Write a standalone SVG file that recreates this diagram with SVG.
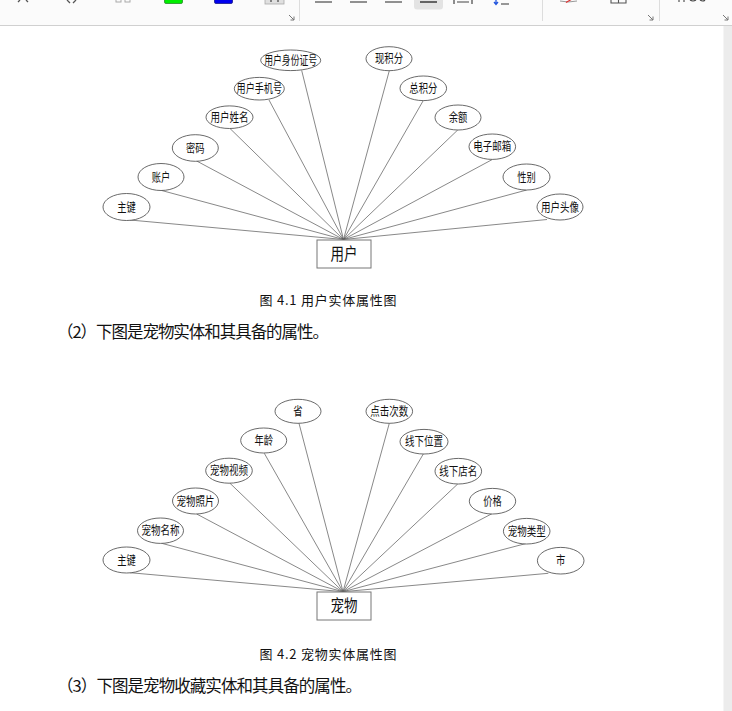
<svg xmlns="http://www.w3.org/2000/svg" width="732" height="711" viewBox="0 0 732 711">
<style>
.ell{fill:#fff;stroke:#444;stroke-width:0.8}
.ent{fill:#fff;stroke:#777;stroke-width:1}
.lbl{font-family:"Noto Sans CJK SC","Liberation Sans",sans-serif;font-size:12.5px;fill:#111;text-anchor:middle}
.etxt{font-family:"Noto Sans CJK SC","Liberation Sans",sans-serif;font-size:17px;fill:#111;text-anchor:middle}
.conn line{stroke:#555;stroke-width:0.7}
.cap{font-family:"Noto Sans CJK SC","Liberation Mono",sans-serif;font-size:13px;fill:#111}
.body{font-family:"Noto Sans CJK SC","Liberation Sans",sans-serif;font-size:16.5px;fill:#111}
.tb{stroke:#555;stroke-width:1.3;fill:none}
.corner{stroke:#777;stroke-width:1;fill:none}
</style>
<rect x="0" y="0" width="732" height="711" fill="#fff"/>
<!-- toolbar -->
<g id="toolbar">
<rect x="0" y="0" width="732" height="25" fill="#fbfbfb"/>
<line x1="0" y1="25.5" x2="732" y2="25.5" stroke="#d0d0d0" stroke-width="1.2"/>
<path class="tb" d="M18 2 L20 0 M28 2 L26 0"/>
<path class="tb" d="M67 0 L70 3 M76 0 L73 3"/>
<rect x="116" y="-2" width="5" height="4" fill="none" stroke="#aaa" stroke-width="1"/>
<rect x="125" y="-2" width="5" height="4" fill="none" stroke="#aaa" stroke-width="1"/>
<rect x="164.5" y="-3" width="18" height="6.5" rx="1.5" fill="#00ee00" stroke="#2a8a2a" stroke-width="0.8"/>
<rect x="214.5" y="-3" width="18" height="6.5" rx="1.5" fill="#0000ee" stroke="#1a1a8a" stroke-width="0.8"/>
<rect x="265" y="-3" width="19" height="7" fill="#e0e0e0" stroke="#aaa" stroke-width="0.8"/>
<path d="M271 0 L271 2 M278 0 L278 2" stroke="#444" stroke-width="1.2"/>
<path class="corner" d="M289 15 L294 20 M294 16.5 L294 20 L290.5 20"/>
<line x1="299.5" y1="0" x2="299.5" y2="21" stroke="#ddd" stroke-width="1"/>
<line x1="315" y1="2" x2="332" y2="2" stroke="#555" stroke-width="1.3"/>
<line x1="350" y1="2" x2="367" y2="2" stroke="#555" stroke-width="1.3"/>
<line x1="385" y1="2" x2="402" y2="2" stroke="#555" stroke-width="1.3"/>
<rect x="414" y="-4" width="29" height="13.5" rx="3" fill="#e3e3e3"/>
<line x1="420" y1="2" x2="437" y2="2" stroke="#444" stroke-width="1.6"/>
<path d="M454 0 L454 4 M472 0 L472 4 M457 2 L469 2" stroke="#444" stroke-width="1.2" fill="none"/>
<path d="M496 0 L496 4 M494 2 L496 4.5 L498 2" stroke="#2255dd" stroke-width="1.3" fill="none"/>
<line x1="501" y1="4" x2="509" y2="4" stroke="#555" stroke-width="1.2"/>
<line x1="542.5" y1="0" x2="542.5" y2="21" stroke="#ddd" stroke-width="1"/>
<path d="M560 1 Q568 3 577 1" stroke="#999" stroke-width="1" fill="none"/>
<line x1="566" y1="2.5" x2="572" y2="-1" stroke="#e03030" stroke-width="1.2"/>
<path d="M611 0 L611 3 L626 3 L626 0 M618.5 0 L618.5 3" stroke="#555" stroke-width="1.1" fill="none"/>
<path class="corner" d="M648 15 L653 20 M653 16.5 L653 20 L649.5 20"/>
<line x1="659.5" y1="0" x2="659.5" y2="21" stroke="#ddd" stroke-width="1"/>
<path d="M679 0 L679 2 M684 0 L684 2 M690 0 Q693 2 696 0 M700 0 Q703 2 705 0" stroke="#444" stroke-width="1.1" fill="none"/>
<path class="corner" d="M723 15 L728 20 M728 16.5 L728 20 L724.5 20"/>
</g>
<rect x="723.5" y="26" width="8.5" height="685" fill="#ececec"/>

<!-- diagram 1 connectors -->
<g id="connectors-1" class="conn">
<line x1="130" y1="220" x2="343.5" y2="239.5"/>
<line x1="161.7" y1="190.5" x2="343.5" y2="239.5"/>
<line x1="196.7" y1="161" x2="343.5" y2="239.5"/>
<line x1="230" y1="128.5" x2="343.5" y2="239.5"/>
<line x1="269" y1="100" x2="343.5" y2="239.5"/>
<line x1="301.7" y1="70.5" x2="343.5" y2="239.5"/>
<line x1="389.3" y1="70.7" x2="343.5" y2="239.5"/>
<line x1="423.3" y1="100.5" x2="343.5" y2="239.5"/>
<line x1="457.7" y1="130" x2="343.5" y2="239.5"/>
<line x1="492.3" y1="159.5" x2="343.5" y2="239.5"/>
<line x1="526.7" y1="190" x2="343.5" y2="239.5"/>
<line x1="547" y1="219.5" x2="343.5" y2="239.5"/>
</g>
<g id="user"><rect class="ent" x="317" y="240" width="54" height="28"/><text class="etxt" x="344" y="260" textLength="27" lengthAdjust="spacingAndGlyphs">用户</text></g>
<g id="u-key"><ellipse class="ell" cx="126.5" cy="207" rx="23.5" ry="13.5"/><text class="lbl" x="126.5" y="211.5" textLength="18.5" lengthAdjust="spacingAndGlyphs">主键</text></g>
<g id="u-account"><ellipse class="ell" cx="161" cy="177" rx="23" ry="13.5"/><text class="lbl" x="161" y="181.5" textLength="18.5" lengthAdjust="spacingAndGlyphs">账户</text></g>
<g id="u-pwd"><ellipse class="ell" cx="195.3" cy="148" rx="23" ry="13.3"/><text class="lbl" x="195.3" y="152.5" textLength="18.5" lengthAdjust="spacingAndGlyphs">密码</text></g>
<g id="u-name"><ellipse class="ell" cx="229.5" cy="117.2" rx="23.5" ry="11.3"/><text class="lbl" x="229.5" y="121.7" textLength="38" lengthAdjust="spacingAndGlyphs">用户姓名</text></g>
<g id="u-phone"><ellipse class="ell" cx="259.3" cy="88.7" rx="25" ry="11.3"/><text class="lbl" x="259.3" y="93.2" textLength="45.5" lengthAdjust="spacingAndGlyphs">用户手机号</text></g>
<g id="u-idcard"><ellipse class="ell" cx="290.7" cy="60.3" rx="30" ry="10.3"/><text class="lbl" x="290.7" y="64.8" textLength="53" lengthAdjust="spacingAndGlyphs">用户身份证号</text></g>
<g id="u-curpoints"><ellipse class="ell" cx="389" cy="58.7" rx="23" ry="12"/><text class="lbl" x="389" y="63.2" textLength="28" lengthAdjust="spacingAndGlyphs">现积分</text></g>
<g id="u-totalpoints"><ellipse class="ell" cx="423.3" cy="88.3" rx="23.3" ry="12.3"/><text class="lbl" x="423.3" y="92.8" textLength="28" lengthAdjust="spacingAndGlyphs">总积分</text></g>
<g id="u-balance"><ellipse class="ell" cx="458" cy="117.5" rx="23" ry="12.5"/><text class="lbl" x="458" y="122" textLength="18.5" lengthAdjust="spacingAndGlyphs">余额</text></g>
<g id="u-email"><ellipse class="ell" cx="492.3" cy="146.7" rx="23.3" ry="12.7"/><text class="lbl" x="492.3" y="151.2" textLength="38" lengthAdjust="spacingAndGlyphs">电子邮箱</text></g>
<g id="u-gender"><ellipse class="ell" cx="526.5" cy="177" rx="23.5" ry="13"/><text class="lbl" x="526.5" y="181.5" textLength="18.5" lengthAdjust="spacingAndGlyphs">性别</text></g>
<g id="u-avatar"><ellipse class="ell" cx="560" cy="207" rx="23" ry="13"/><text class="lbl" x="560" y="211.5" textLength="38" lengthAdjust="spacingAndGlyphs">用户头像</text></g>

<text class="cap" x="259.5" y="304.5" textLength="137">图 4.1 用户实体属性图</text>
<text class="body" x="57" y="338" textLength="272">（2）下图是宠物实体和其具备的属性。</text>

<!-- diagram 2 connectors -->
<g id="connectors-2" class="conn">
<line x1="130" y1="572.7" x2="343" y2="591.7"/>
<line x1="161.7" y1="543.3" x2="343" y2="591.7"/>
<line x1="196.7" y1="514" x2="343" y2="591.7"/>
<line x1="230" y1="483.3" x2="343" y2="591.7"/>
<line x1="264.3" y1="453.3" x2="343" y2="591.7"/>
<line x1="299" y1="423.3" x2="343" y2="591.7"/>
<line x1="389.3" y1="423.3" x2="343" y2="591.7"/>
<line x1="423.3" y1="454" x2="343" y2="591.7"/>
<line x1="457.7" y1="484" x2="343" y2="591.7"/>
<line x1="492.3" y1="513.5" x2="343" y2="591.7"/>
<line x1="526" y1="543.5" x2="343" y2="591.7"/>
<line x1="548.3" y1="573.3" x2="343" y2="591.7"/>
</g>
<g id="pet"><rect class="ent" x="317" y="592" width="54" height="28"/><text class="etxt" x="344" y="612" textLength="27" lengthAdjust="spacingAndGlyphs">宠物</text></g>
<g id="p-key"><ellipse class="ell" cx="126.5" cy="560" rx="23.5" ry="13"/><text class="lbl" x="126.5" y="564.5" textLength="18.5" lengthAdjust="spacingAndGlyphs">主键</text></g>
<g id="p-name"><ellipse class="ell" cx="160.5" cy="530.7" rx="23" ry="12.7"/><text class="lbl" x="160.5" y="535.2" textLength="38" lengthAdjust="spacingAndGlyphs">宠物名称</text></g>
<g id="p-photo"><ellipse class="ell" cx="195.5" cy="501" rx="23" ry="13"/><text class="lbl" x="195.5" y="505.5" textLength="38" lengthAdjust="spacingAndGlyphs">宠物照片</text></g>
<g id="p-video"><ellipse class="ell" cx="229" cy="470.7" rx="23.3" ry="12.5"/><text class="lbl" x="229" y="475.2" textLength="38" lengthAdjust="spacingAndGlyphs">宠物视频</text></g>
<g id="p-age"><ellipse class="ell" cx="263.7" cy="440.5" rx="23" ry="12.5"/><text class="lbl" x="263.7" y="445" textLength="18.5" lengthAdjust="spacingAndGlyphs">年龄</text></g>
<g id="p-province"><ellipse class="ell" cx="298" cy="411.3" rx="23" ry="12"/><text class="lbl" x="298" y="415.8" textLength="9.3" lengthAdjust="spacingAndGlyphs">省</text></g>
<g id="p-clicks"><ellipse class="ell" cx="389.3" cy="411.3" rx="23.3" ry="12"/><text class="lbl" x="389.3" y="415.8" textLength="38" lengthAdjust="spacingAndGlyphs">点击次数</text></g>
<g id="p-location"><ellipse class="ell" cx="424" cy="441.7" rx="24" ry="12.3"/><text class="lbl" x="424" y="446.2" textLength="38" lengthAdjust="spacingAndGlyphs">线下位置</text></g>
<g id="p-store"><ellipse class="ell" cx="458.3" cy="471.2" rx="23.3" ry="12.8"/><text class="lbl" x="458.3" y="475.7" textLength="38" lengthAdjust="spacingAndGlyphs">线下店名</text></g>
<g id="p-price"><ellipse class="ell" cx="492.5" cy="501.2" rx="23.2" ry="12.8"/><text class="lbl" x="492.5" y="505.7" textLength="18.5" lengthAdjust="spacingAndGlyphs">价格</text></g>
<g id="p-type"><ellipse class="ell" cx="526.7" cy="531.2" rx="23.3" ry="12.8"/><text class="lbl" x="526.7" y="535.7" textLength="38" lengthAdjust="spacingAndGlyphs">宠物类型</text></g>
<g id="p-city"><ellipse class="ell" cx="560.7" cy="560.7" rx="23.3" ry="13.3"/><text class="lbl" x="560.7" y="565.2" textLength="9.3" lengthAdjust="spacingAndGlyphs">市</text></g>

<text class="cap" x="259.5" y="658.5" textLength="137">图 4.2 宠物实体属性图</text>
<text class="body" x="57" y="692" textLength="305">（3）下图是宠物收藏实体和其具备的属性。</text>
</svg>
